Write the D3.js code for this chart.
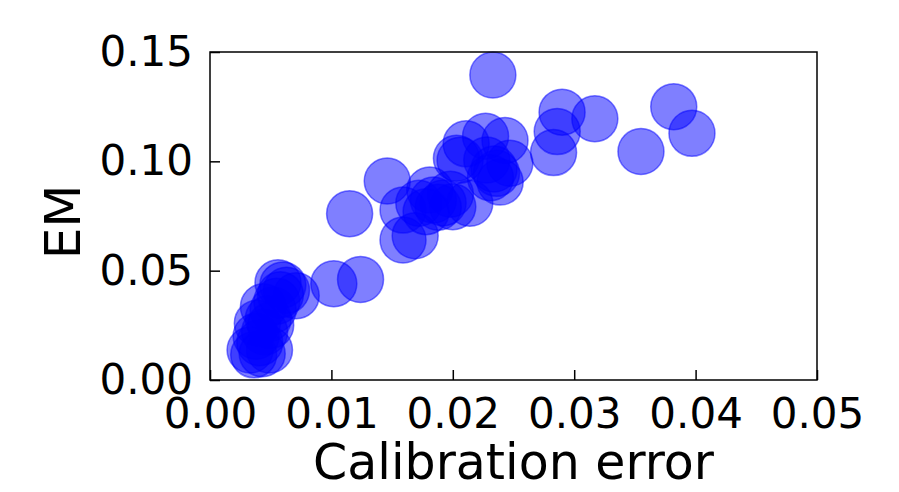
<!DOCTYPE html>
<html>
<head>
<meta charset="utf-8">
<script src="https://cdn.jsdelivr.net/npm/d3@7"></script>
<style>
  html, body { margin: 0; padding: 0; background: #fff; }
  text { font-family: "DejaVu Sans", sans-serif; fill: #000; }
</style>
</head>
<body>
<div id="chart"></div>
<script>
// data
const calibError = [
  0.0233, 0.0382, 0.0397, 0.0355, 0.0317, 0.0290, 0.0286, 0.0283,
  0.0227, 0.0243, 0.0211, 0.0203, 0.0247, 0.0236, 0.0239, 0.0228, 0.0231, 0.0206, 0.0234,
  0.0181, 0.0198, 0.0115, 0.0146, 0.0159, 0.0159, 0.0169, 0.0172, 0.0184, 0.0192, 0.0200, 0.0214, 0.0188, 0.0178,
  0.0102, 0.0124,
  0.0056, 0.0071, 0.0063, 0.0060, 0.0044, 0.0039, 0.0033, 0.0049, 0.0036, 0.0041,
  0.0045, 0.0048, 0.0052, 0.0055, 0.0038, 0.0043, 0.0050, 0.0058
];
const emScore = [
  0.1395, 0.1250, 0.1128, 0.1045, 0.1195, 0.1225, 0.1136, 0.1040,
  0.1115, 0.1095, 0.1080, 0.1014, 0.0991, 0.0945, 0.0905, 0.1006, 0.0925, 0.1005, 0.0965,
  0.0869, 0.0850, 0.0760, 0.0910, 0.0777, 0.0640, 0.0660, 0.0808, 0.0823, 0.0810, 0.0792, 0.0808, 0.0790, 0.0770,
  0.0440, 0.0460,
  0.0445, 0.0385, 0.0410, 0.0435, 0.0335, 0.0260, 0.0137, 0.0137, 0.0115, 0.0170,
  0.0220, 0.0280, 0.0320, 0.0360, 0.0200, 0.0120, 0.0250, 0.0390
];
const xTicks = [0, 0.01, 0.02, 0.03, 0.04, 0.05];
const yTicks = [0, 0.05, 0.10, 0.15];

const W = 899, H = 492;
const plot = { left: 210, right: 817, top: 52, bottom: 380 };

const svg = d3.select('#chart').append('svg')
  .attr('width', W).attr('height', H);

const x = d3.scaleLinear().domain([0, 0.05]).range([plot.left, plot.right]);
const y = d3.scaleLinear().domain([0, 0.15]).range([plot.bottom, plot.top]);

const pts = calibError.map((v, i) => [v, emScore[i]]);

// points first, frame on top
svg.append('g')
  .selectAll('circle')
  .data(pts)
  .join('circle')
  .attr('cx', d => x(d[0]))
  .attr('cy', d => y(d[1]))
  .attr('r', 23)
  .attr('fill', '#0000ff')
  .attr('fill-opacity', 0.5)
  .attr('stroke', '#0000ff')
  .attr('stroke-opacity', 0.5)
  .attr('stroke-width', 1.5);

const xAxis = d3.axisBottom(x).tickValues(xTicks).tickFormat(d3.format('.2f'))
  .tickSize(-10).tickPadding(18);
const yAxis = d3.axisLeft(y).tickValues(yTicks).tickFormat(d3.format('.2f'))
  .tickSize(-10).tickPadding(17);

const gx = svg.append('g')
  .attr('transform', 'translate(0,' + plot.bottom + ')')
  .call(xAxis);
const gy = svg.append('g')
  .attr('transform', 'translate(' + plot.left + ',0)')
  .call(yAxis);

[gx, gy].forEach(g => {
  g.select('.domain').remove();
  g.selectAll('.tick line').attr('stroke', '#000').attr('stroke-width', 1.5);
  g.selectAll('.tick text').attr('font-size', 42).attr('font-family', 'DejaVu Sans');
});

svg.append('rect')
  .attr('x', plot.left).attr('y', plot.top)
  .attr('width', plot.right - plot.left).attr('height', plot.bottom - plot.top)
  .attr('fill', 'none').attr('stroke', '#000').attr('stroke-width', 1.5);

svg.append('text')
  .attr('x', (plot.left + plot.right) / 2).attr('y', 479)
  .attr('text-anchor', 'middle').attr('font-size', 49)
  .text('Calibration error');

svg.append('text')
  .attr('transform', 'translate(80,222) rotate(-90)')
  .attr('text-anchor', 'middle').attr('font-size', 50)
  .text('EM');
</script>
</body>
</html>
